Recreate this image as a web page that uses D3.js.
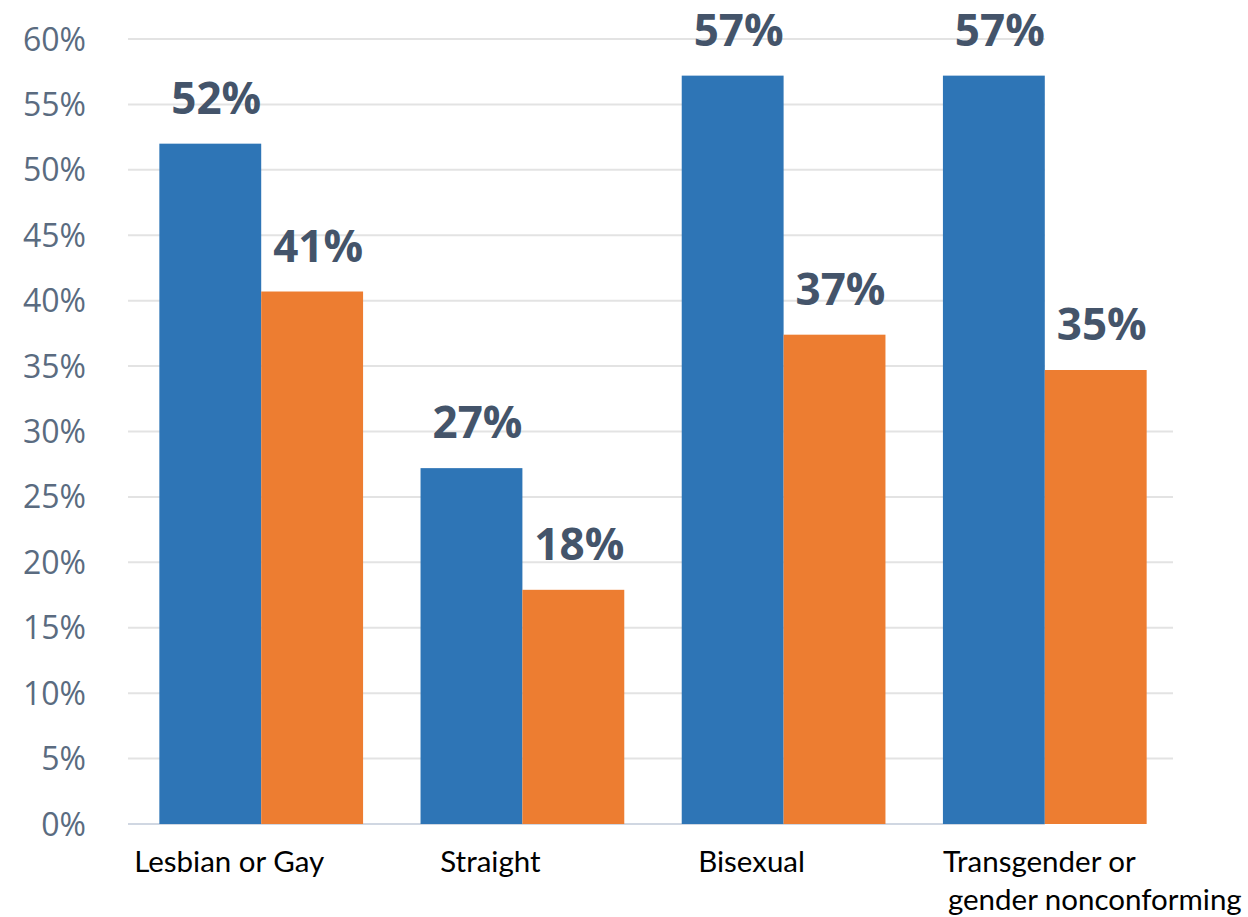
<!DOCTYPE html>
<html>
<head>
<meta charset="utf-8">
<script src="https://cdn.jsdelivr.net/npm/d3@7"></script>
<style>
  body { margin: 0; background: #fff; }
</style>
</head>
<body>
<script>
const categories = ["Lesbian or Gay", "Straight", "Bisexual", "Transgender or gender nonconforming"];
const categoryLines = [["Lesbian or Gay"], ["Straight"], ["Bisexual"], ["Transgender or", "gender nonconforming"]];
const series = ["blue", "orange"];
const blueValues = [52.0, 27.2, 57.2, 57.2];
const orangeValues = [40.7, 17.9, 37.4, 34.7];
const tickValues = [0, 5, 10, 15, 20, 25, 30, 35, 40, 45, 50, 55, 60];

const width = 1248;
const height = 917;

const svg = d3.select("body").append("svg")
    .attr("width", width)
    .attr("height", height);

const x = d3.scaleBand()
    .domain(categories)
    .range([128, 1178])
    .paddingInner(0.22)
    .paddingOuter(0.12);

const xInner = d3.scaleBand()
    .domain(series)
    .range([0, x.bandwidth()]);

const y = d3.scaleLinear()
    .domain([0, 60])
    .range([824, 39]);

const color = d3.scaleOrdinal()
    .domain(series)
    .range(["#2E75B6", "#ED7D31"]);

// gridlines (upper ones stop at the last blue bar, like the source image)
const lastBlueRight = x(categories[3]) + xInner("blue") + xInner.bandwidth();
svg.append("g")
    .selectAll("line")
    .data(tickValues)
    .enter()
    .append("line")
    .attr("x1", 128)
    .attr("x2", d => (d > 0 && d <= 30) ? 1173 : lastBlueRight)
    .attr("y1", d => y(d))
    .attr("y2", d => y(d))
    .style("stroke", d => d === 0 ? "#D0D7E2" : "#E3E3E3")
    .style("stroke-width", 2);

// y tick labels
svg.append("g")
    .selectAll("text")
    .data(tickValues)
    .enter()
    .append("text")
    .attr("x", 86)
    .attr("y", d => y(d))
    .attr("dy", "0.36em")
    .style("text-anchor", "end")
    .style("font-family", "Open Sans")
    .style("font-size", "32px")
    .style("fill", "#5A6B80")
    .text(d => d + "%");

const rows = categories.map((c, i) => ({
    category: c,
    values: [
        { key: "blue", value: blueValues[i] },
        { key: "orange", value: orangeValues[i] }
    ]
}));

const groups = svg.append("g")
    .selectAll("g")
    .data(rows)
    .enter()
    .append("g")
    .attr("transform", d => `translate(${x(d.category)},0)`);

groups.selectAll("rect")
    .data(d => d.values)
    .enter()
    .append("rect")
    .attr("x", d => xInner(d.key))
    .attr("y", d => y(d.value))
    .attr("width", xInner.bandwidth())
    .attr("height", d => y(0) - y(d.value))
    .style("fill", d => color(d.key));

groups.selectAll("text.value")
    .data(d => d.values)
    .enter()
    .append("text")
    .attr("class", "value")
    .attr("x", d => xInner(d.key) + xInner.bandwidth() / 2 + 6)
    .attr("y", d => y(d.value) - 30)
    .style("text-anchor", "middle")
    .style("font-family", "Open Sans")
    .style("font-weight", "bold")
    .style("font-size", "44px")
    .style("fill", "#44546A")
    .text(d => Math.round(d.value) + "%");

// category labels
svg.append("g")
    .selectAll("text")
    .data(categories)
    .enter()
    .append("text")
    .attr("x", (d, i) => categoryLines[i].length > 1 ? x(d) : x(d) + x.bandwidth() / 2 - 32)
    .attr("y", 872)
    .style("text-anchor", (d, i) => categoryLines[i].length > 1 ? "start" : "middle")
    .style("font-family", "Lato")
    .style("font-size", "29.5px")
    .style("fill", "#000")
    .each(function(d, i) {
        const t = d3.select(this);
        categoryLines[i].forEach((line, j) => {
            t.append("tspan")
                .attr("x", t.attr("x"))
                .attr("dx", j > 0 ? 5 : 0)
                .attr("dy", j > 0 ? 38 : 0)
                .text(line);
        });
    });
</script>
</body>
</html>
